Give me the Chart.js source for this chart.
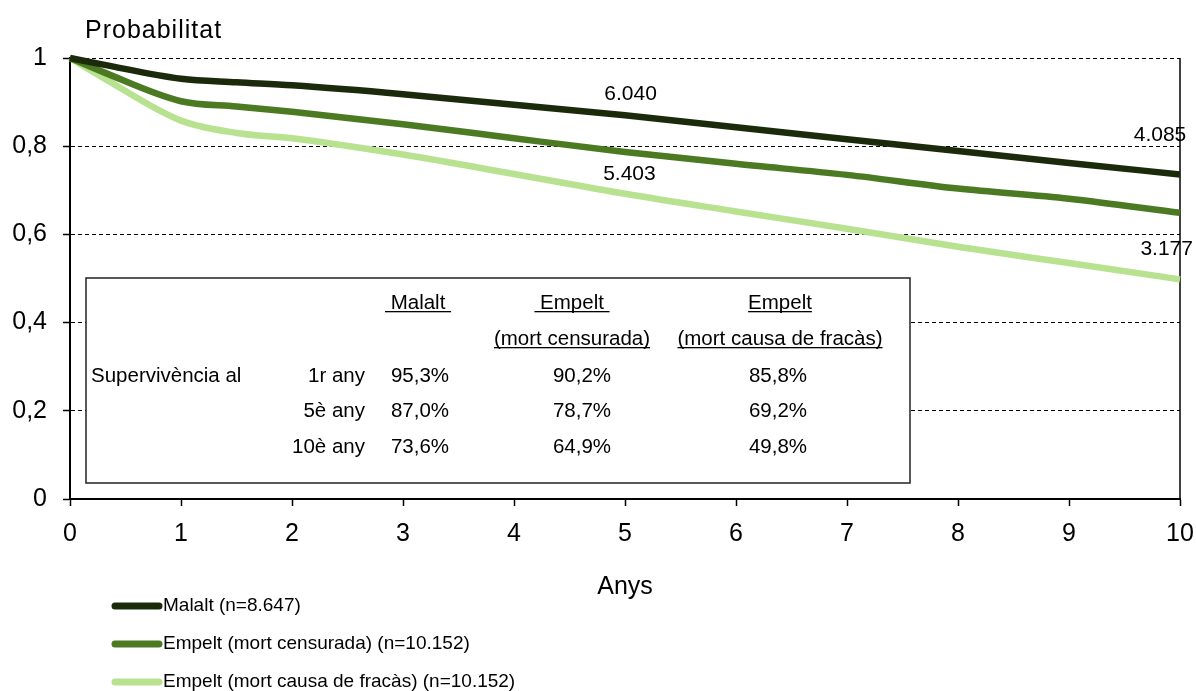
<!DOCTYPE html>
<html>
<head>
<meta charset="utf-8">
<script src="https://cdn.jsdelivr.net/npm/chart.js@4.4.1/dist/chart.umd.min.js"></script>
<style>
  html, body { margin: 0; padding: 0; background: #ffffff; }
  #wrap { width: 1196px; height: 691px; }
</style>
</head>
<body>
<div id="wrap"><canvas id="c" width="1196" height="691"></canvas></div>
<script>
// ---------- data ----------
const years      = [0, 0.3, 1, 1.5, 2, 3, 4, 5, 6, 7, 8, 9, 10];
const malalt     = [1, 0.985, 0.953, 0.945, 0.938, 0.918, 0.894, 0.870, 0.843, 0.816, 0.789, 0.762, 0.736];
const empeltCens = [1, 0.968, 0.902, 0.890, 0.878, 0.850, 0.818, 0.787, 0.760, 0.735, 0.704, 0.681, 0.649];
const empeltFrac = [1, 0.955, 0.858, 0.830, 0.818, 0.781, 0.737, 0.692, 0.652, 0.613, 0.572, 0.535, 0.498];

const seriesNames = ['Malalt (n=8.647)', 'Empelt (mort censurada) (n=10.152)', 'Empelt (mort causa de fracàs) (n=10.152)'];

const xTicks = [0,1,2,3,4,5,6,7,8,9,10];
const yTicks = [0, 0.2, 0.4, 0.6, 0.8, 1];
const yTickLabels = ['0', '0,2', '0,4', '0,6', '0,8', '1'];

// numbers at risk: [text, year, probability position]
const atRiskText  = ['6.040', '5.403', '4.085', '3.177'];
const atRiskYear  = [5.05, 5.04, 9.82, 9.88];
const atRiskProb  = [0.918, 0.737, 0.825, 0.567];

// survival table
const tableHead1 = [' Malalt ', ' Empelt ', 'Empelt'];
const tableHead2 = ['', '(mort censurada)', '(mort causa de fracàs)'];
const tableRowLead = 'Supervivència al';
const tableRows  = ['1r any', '5è any', '10è any'];
const tabMalalt  = ['95,3%', '87,0%', '73,6%'];
const tabCens    = ['90,2%', '78,7%', '64,9%'];
const tabFrac    = ['85,8%', '69,2%', '49,8%'];

const colors = ['#1b2a0b', '#4b7a22', '#b8e290'];

// ---------- helpers ----------
const FONT = '"Liberation Sans", Arial, sans-serif';
function pts(vals) { return years.map((x, i) => ({ x: x, y: vals[i] })); }

const decorPlugin = {
  id: 'decor',
  beforeDatasetsDraw(chart) {
    const ctx = chart.ctx;
    const ca = chart.chartArea;
    // right border
    ctx.save();
    ctx.strokeStyle = '#000';
    ctx.lineWidth = 1.5;
    ctx.beginPath();
    ctx.moveTo(ca.right, ca.top);
    ctx.lineTo(ca.right, ca.bottom);
    ctx.stroke();

    // table box
    const bx = 86, by = 278, bw = 824, bh = 205;
    ctx.fillStyle = '#fff';
    ctx.fillRect(bx, by, bw, bh);
    ctx.strokeStyle = '#222';
    ctx.lineWidth = 1.5;
    ctx.strokeRect(bx, by, bw, bh);

    ctx.fillStyle = '#000';
    ctx.font = '20.5px ' + FONT;
    ctx.textBaseline = 'alphabetic';
    const headCenters = [418, 572, 780];
    const valCenters = [420, 582, 778];
    function underlined(t, cx, y) {
      ctx.textAlign = 'center';
      ctx.fillText(t, cx, y);
      const w = ctx.measureText(t).width;
      ctx.fillRect(cx - w / 2, y + 2, w, 1.3);
    }
    tableHead1.forEach((t, i) => underlined(t, headCenters[i], 309));
    tableHead2.forEach((t, i) => { if (t) underlined(t, headCenters[i], 345); });
    const rowY = [382, 417, 453];
    ctx.textAlign = 'left';
    ctx.fillText(tableRowLead, 91, rowY[0]);
    tableRows.forEach((t, i) => {
      ctx.textAlign = 'right';
      ctx.fillText(t, 365, rowY[i]);
      ctx.textAlign = 'center';
      ctx.fillText(tabMalalt[i], valCenters[0], rowY[i]);
      ctx.fillText(tabCens[i], valCenters[1], rowY[i]);
      ctx.fillText(tabFrac[i], valCenters[2], rowY[i]);
    });
    ctx.restore();
  },
  afterDraw(chart) {
    const ctx = chart.ctx;
    const xs = chart.scales.x, ys = chart.scales.y;
    ctx.save();
    ctx.fillStyle = '#000';
    // axis titles
    ctx.font = '25px ' + FONT;
    ctx.textBaseline = 'alphabetic';
    ctx.textAlign = 'left';
    try { ctx.letterSpacing = '1px'; } catch (e) {}
    ctx.fillText('Probabilitat', 85, 38);
    try { ctx.letterSpacing = '0px'; } catch (e) {}
    ctx.textAlign = 'center';
    ctx.fillText('Anys', xs.getPixelForValue(5), 594);

    // numbers at risk
    ctx.font = '21px ' + FONT;
    ctx.textBaseline = 'middle';
    atRiskText.forEach((t, i) => {
      ctx.fillText(t, xs.getPixelForValue(atRiskYear[i]), ys.getPixelForValue(atRiskProb[i]));
    });

    // legend
    ctx.font = '19px ' + FONT;
    ctx.textAlign = 'left';
    ctx.textBaseline = 'middle';
    const legY = [606, 644, 682];
    seriesNames.forEach((n, i) => {
      ctx.strokeStyle = colors[i];
      ctx.lineWidth = 7;
      ctx.lineCap = 'round';
      ctx.beginPath();
      ctx.moveTo(115, legY[i]);
      ctx.lineTo(159, legY[i]);
      ctx.stroke();
      ctx.fillStyle = '#000';
      ctx.fillText(n, 163, legY[i]);
    });
    ctx.restore();
  }
};

new Chart(document.getElementById('c'), {
  type: 'line',
  data: {
    datasets: [
      { label: seriesNames[0], data: pts(malalt), borderColor: colors[0], backgroundColor: colors[0] },
      { label: seriesNames[1], data: pts(empeltCens), borderColor: colors[1], backgroundColor: colors[1] },
      { label: seriesNames[2], data: pts(empeltFrac), borderColor: colors[2], backgroundColor: colors[2] }
    ].map(d => Object.assign(d, {
      borderWidth: 6.5, pointRadius: 0, pointHoverRadius: 0,
      cubicInterpolationMode: 'monotone', fill: false, clip: false
    }))
  },
  options: {
    responsive: false,
    devicePixelRatio: 1,
    animation: false,
    events: [],
    layout: { padding: { left: 0, top: 58, right: 16, bottom: 132 } },
    plugins: { legend: { display: false }, tooltip: { enabled: false }, title: { display: false } },
    scales: {
      x: {
        type: 'linear', min: 0, max: 10,
        afterBuildTicks(s) { s.ticks = xTicks.map(v => ({ value: v })); },
        afterFit(s) { s.height = 60; s.paddingLeft = 0; s.paddingRight = 0; },
        ticks: { color: '#000', font: { family: FONT, size: 25 }, padding: 13, maxRotation: 0,
                 callback: v => String(v) },
        grid: { drawOnChartArea: false, drawTicks: true, tickLength: 7, tickColor: '#000', tickWidth: 1.5 },
        border: { display: true, color: '#000', width: 2 }
      },
      y: {
        type: 'linear', min: 0, max: 1,
        afterBuildTicks(s) { s.ticks = yTicks.map(v => ({ value: v })); },
        afterFit(s) { s.width = 70; s.paddingTop = 0; s.paddingBottom = 0; },
        ticks: { color: '#000', font: { family: FONT, size: 25 }, padding: 16,
                 callback: (v) => yTickLabels[yTicks.findIndex(t => Math.abs(t - v) < 1e-9)] },
        grid: { color: '#000', lineWidth: 1, drawTicks: true, tickLength: 7, tickColor: '#000', tickWidth: 1.5, tickBorderDash: [] },
        border: { display: true, color: '#000', width: 2, dash: [4, 3] }
      }
    }
  },
  plugins: [decorPlugin]
});
</script>
</body>
</html>
